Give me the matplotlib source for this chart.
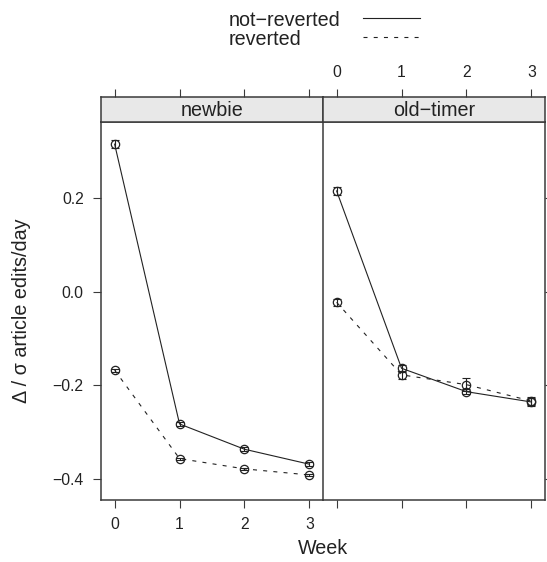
#!/usr/bin/env python3
# Change in article edits/day by week, newbie vs old-timer (lattice-style panels)

import matplotlib
matplotlib.use("Agg")
import matplotlib.pyplot as plt
from matplotlib.lines import Line2D

plt.rcParams['font.family'] = ['Liberation Sans', 'DejaVu Sans']

# Data
weeks = [0, 1, 2, 3]
panels = ["newbie", "old\u2212timer"]
groups = ["not\u2212reverted", "reverted"]

newbie_not_reverted = [0.315, -0.283, -0.337, -0.369]
newbie_reverted = [-0.168, -0.357, -0.379, -0.392]
oldtimer_not_reverted = [0.215, -0.164, -0.214, -0.236]
oldtimer_reverted = [-0.023, -0.178, -0.199, -0.234]

newbie_not_reverted_err = [0.008, 0.004, 0.004, 0.004]
newbie_reverted_err = [0.003, 0.002, 0.002, 0.002]
oldtimer_not_reverted_err = [0.008, 0.008, 0.006, 0.008]
oldtimer_reverted_err = [0.008, 0.008, 0.014, 0.008]

y_ticks = [-0.4, -0.2, 0.0, 0.2]
y_tick_labels = ["\u22120.4", "\u22120.2", "0.0", "0.2"]

ink = "#222222"
frame = "#3a3a3a"
strip_col = "#e8e8e8"
dash = (0, (3.6, 5.6))
tick_len = 6.0
fs_tick = 11.3
fs_lab = 14.2

W, H = 547, 562
fig = plt.figure(figsize=(W / 100, H / 100), dpi=100)

def fx(px):
    return px / W

def fy(py):
    return 1 - py / H

xlim = (-0.21, 3.21)
ylim = (-0.4455, 0.363)

panel_left = [101, 323]
panel_w = 222
panel_top, panel_bot = 121.7, 500
strip_top = 97.3

series = [
    (newbie_not_reverted, newbie_not_reverted_err, newbie_reverted, newbie_reverted_err),
    (oldtimer_not_reverted, oldtimer_not_reverted_err, oldtimer_reverted, oldtimer_reverted_err),
]

for i, name in enumerate(panels):
    x0 = panel_left[i]
    ax = fig.add_axes([fx(x0), fy(panel_bot), panel_w / W, (panel_bot - panel_top) / H])
    sax = fig.add_axes([fx(x0), fy(panel_top), panel_w / W, (panel_top - strip_top) / H])

    nr, nr_err, rv, rv_err = series[i]
    for vals, errs, ls in [(nr, nr_err, "-"), (rv, rv_err, dash)]:
        ax.plot(weeks, vals, color=ink, lw=0.8, linestyle=ls, zorder=2)
        ax.errorbar(weeks, vals, yerr=errs, fmt="none", ecolor=ink, elinewidth=0.8,
                    capsize=2.9, capthick=0.8, zorder=3)
        ax.plot(weeks, vals, linestyle="none", marker="o", markersize=6,
                markerfacecolor="none", markeredgecolor=ink, markeredgewidth=0.9, zorder=4)

    ax.set_xlim(*xlim)
    ax.set_ylim(*ylim)
    ax.set_xticks(weeks)
    ax.set_yticks(y_ticks)
    for sp in ax.spines.values():
        sp.set_color(frame)
        sp.set_linewidth(1.1)
    ax.tick_params(direction="out", length=tick_len, width=0.8, color=frame,
                   labelsize=fs_tick, pad=6.5, labelcolor=ink)
    if i == 0:
        ax.spines["right"].set_visible(False)
        ax.tick_params(axis="y", left=True, right=False, labelleft=True)
        ax.set_yticklabels(y_tick_labels)
        ax.tick_params(axis="x", bottom=True, labelbottom=True)
        ax.set_xticklabels([str(w) for w in weeks])
    else:
        ax.tick_params(axis="y", left=False, right=True, labelleft=False, labelright=False)
        ax.tick_params(axis="x", bottom=True, labelbottom=False)

    # strip with the top ticks above it
    sax.set_facecolor(strip_col)
    sax.set_xlim(*xlim)
    sax.set_ylim(0, 1)
    sax.set_yticks([])
    sax.set_xticks(weeks)
    sax.xaxis.tick_top()
    sax.tick_params(axis="x", direction="out", length=tick_len, width=0.8, color=frame,
                    labelsize=fs_tick, pad=6.5, labelcolor=ink, labeltop=(i == 1),
                    bottom=False, labelbottom=False)
    if i == 1:
        sax.set_xticklabels([str(w) for w in weeks])
    for sp in sax.spines.values():
        sp.set_color(frame)
        sp.set_linewidth(1.1)
    sax.text(0.5, 0.47, name, transform=sax.transAxes, ha="center", va="center",
             fontsize=fs_lab, color=ink)

# axis titles
fig.text(fx(323), fy(549), "Week", ha="center", va="center", fontsize=fs_lab, color=ink)
fig.text(fx(22), fy(311), "\u0394 / \u03c3 article edits/day", ha="center", va="center",
         rotation=90, fontsize=fs_lab, color=ink)

# legend (text left, line sample right)
legend_rows = [(groups[0], "-", 26, 17.7), (groups[1], dash, 45, 37.3)]
for label, ls, base_y, line_y in legend_rows:
    fig.text(fx(228.3), fy(base_y), label, ha="left", va="baseline", fontsize=fs_lab,
             color=ink)
    fig.add_artist(Line2D([fx(362.7), fx(420)], [fy(line_y), fy(line_y)], color=ink,
                          lw=0.8, linestyle=ls, transform=fig.transFigure))

fig.savefig("out.png", dpi=100)
